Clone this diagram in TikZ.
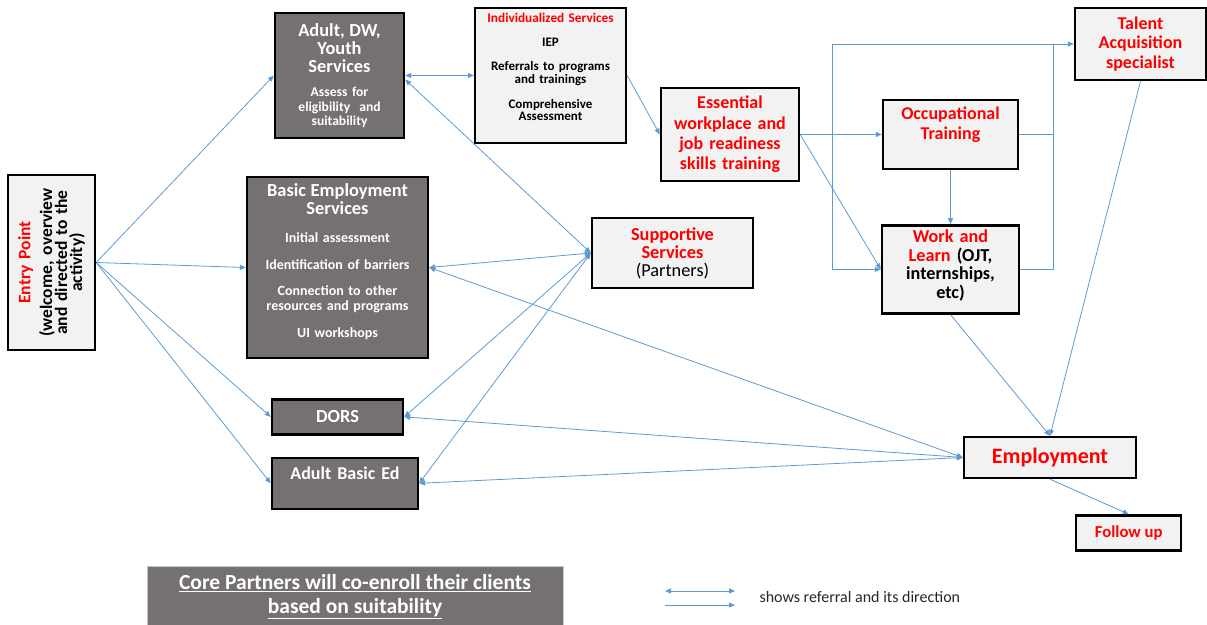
\documentclass[tikz,border=0pt]{standalone}
\usepackage{fontspec}
\setmainfont{Carlito}
\usepackage[dvipsnames]{xcolor}
\usepackage{tikz}
\usetikzlibrary{positioning}
\usetikzlibrary{calc}
\usetikzlibrary{arrows.meta}

\definecolor{BoxLight}{HTML}{F2F2F2}
\definecolor{BoxDark}{HTML}{767171}
\definecolor{LinkBlue}{HTML}{5B9BD5}
\definecolor{TextRed}{HTML}{FF0000}

\begin{document}
\begin{tikzpicture}[
	x=1pt, y=-1pt,
	lightbox/.style={draw, line width=2.4pt, fill=BoxLight, align=center, inner sep=2pt},
	darkbox/.style={draw, line width=2.4pt, fill=BoxDark, text=white, align=center, inner sep=2pt},
	link/.style={draw=LinkBlue, line width=0.8pt},
	oneway/.style={-{Triangle[length=6pt,width=5pt]}},
	twoway/.style={{Triangle[length=6pt,width=5pt]}-{Triangle[length=6pt,width=5pt]}}
	]
	\useasboundingbox (0,0) rectangle (1207,624);
	
	\node[
	lightbox,
	rotate=90,
	minimum width=175pt,
	minimum height=87pt,
	text width=171pt,
	font=\bfseries\fontsize{17.5}{15}\selectfont
	] (EntryPoint) at (51.5,262.5) {\textcolor{TextRed}{Entry Point}\par
		\vspace{5pt}
		(welcome, overview\\and directed to the\\activity)\par};
	
	% ---
	
	\node[
	darkbox,
	minimum width=129pt,
	minimum height=125pt,
	text width=125pt,
	font=\bfseries\fontsize{13.6}{14.5}\selectfont
	] (AdultDW-Youth) at (339.5,75.5) {{\fontsize{18.4}{18}\selectfont Adult, DW,\\Youth\\Services\par}
		\vspace{10pt}
		Assess for\\eligibility\ \ and\\suitability\par};
	
	\node[
	darkbox,
	minimum width=181pt,
	minimum height=181pt,
	text width=177pt,
	font=\bfseries\fontsize{14}{15}\selectfont
	] (BasicEmp) at (337.5,267.5) {{\fontsize{18.4}{18}\selectfont Basic Employment\\Services\par}
		\vspace{13pt}
		Initial assessment\par
		\vspace{12pt}
		Identification of barriers\par
		\vspace{11pt}
		Connection to other\\resources and programs\par
		\vspace{12pt}
		UI workshops\par
		\vspace{12pt}};
	
	\node[
	darkbox,
	minimum width=131pt,
	minimum height=35pt,
	font=\bfseries\fontsize{18.4}{18}\selectfont,
	below=39pt of BasicEmp
	] (DORS) {DORS};
	
	\node[
	darkbox,
	minimum width=146pt,
	minimum height=51pt,
	text width=142pt,
	font=\bfseries\fontsize{18}{18}\selectfont,
	below right=21pt and 0pt of DORS.south west
	] (AdultBasicEd) {Adult Basic Ed\par\vspace{21pt}};
	
	% ---
	
	\node[
	lightbox,
	minimum width=151pt,
	minimum height=135pt,
	text width=147pt,
	font=\bfseries\fontsize{13}{12.5}\selectfont
	] (IndivServ) at (550.5,75.5) {{\fontsize{13.3}{12.5}\selectfont\textcolor{TextRed}{Individualized Services}\par}
		\vspace{11.5pt}
		IEP\par
		\vspace{11.5pt}
		Referrals to programs\\and trainings\par
		\vspace{12.5pt}
		Comprehensive\\Assessment\par
		\vspace{4pt}\mbox{}};
	
	\node[
	lightbox,
	minimum width=138pt,
	minimum height=93pt,
	text width=134pt,
	text=TextRed,
	font=\bfseries\fontsize{18}{20.3}\selectfont
	] (EssentialSkills) at (730,134.5) {Essential\\workplace and\\job readiness\\skills training};
	
	\node[
	lightbox,
	minimum width=161pt,
	minimum height=70pt,
	text width=157pt,
	font=\bfseries\fontsize{18.3}{18}\selectfont
	] (SupportServ) at (672.5,253) {\textcolor{TextRed}{Supportive\\Services}\\{\mdseries (Partners)}};
	
	% ---
	
	\node[
	lightbox,
	minimum width=135pt,
	minimum height=69pt,
	text width=131pt,
	text=TextRed,
	font=\bfseries\fontsize{18}{20}\selectfont
	] (OccupTraining) at (950.5,134.5) {Occupational\\Training\par\vspace{19pt}};
	
	\node[
	lightbox,
	minimum width=137pt,
	minimum height=88pt,
	text width=133pt,
	font=\bfseries\fontsize{18.2}{18.5}\selectfont,
	below=54pt of OccupTraining
	] (WorkLearn) {\textcolor{TextRed}{Work and\\Learn} (OJT,\\internships,\\etc)\par\vspace{-8pt}\mbox{}};
	
	\node[
	lightbox,
	minimum width=131pt,
	minimum height=72pt,
	text width=127pt,
	text=TextRed,
	font=\bfseries\fontsize{18}{19.5}\selectfont
	] (TalentAcq) at (1140.5,44) {Talent\\Acquisition\\specialist};
	
	% ---
	
	\node[
	lightbox,
	minimum width=172pt,
	minimum height=41pt,
	text=TextRed,
	font=\bfseries\fontsize{22}{24}\selectfont
	] (Employment) at (1050,457.5) {Employment};
	
	\node[
	lightbox,
	minimum width=105pt,
	minimum height=35pt,
	text=TextRed,
	font=\bfseries\fontsize{16.7}{18}\selectfont,
	below right=35pt and 25pt of Employment.south
	] (FollowUp) {Follow up};
	
	% ---
	
	\node[
	draw=gray!45,
	fill=BoxDark,
	text=white,
	align=center,
	minimum width=416pt,
	minimum height=62pt,
	font=\bfseries\fontsize{21.5}{24}\selectfont
	] (CorePartners) at (355,597) {\underline{Core Partners will co-enroll their clients}\\\underline{based on suitability}};
	
	\coordinate (LegendA-start) at (665,591);
	\coordinate (LegendA-end) at (735,591);
	\coordinate (LegendB-start) at (665,605);
	\coordinate (LegendB-end) at (735,605);
	
	\node[
	anchor=west,
	text=black!85,
	font=\fontsize{16}{18}\selectfont
	] (LegendText) at (756,597) {shows referral and its direction};
	
	\coordinate (SplitLeft) at (832,134.5);
	\coordinate (SplitRight) at (1053,44);
	
	% --- referrals
	
	\draw[link, oneway] (EntryPoint.south) -- (AdultDW-Youth.west);
	\draw[link, oneway] (EntryPoint.south) -- (BasicEmp.west);
	\draw[link, oneway] (EntryPoint.south) -- (DORS.west);
	\draw[link, oneway] (EntryPoint.south) -- (AdultBasicEd.west);
	
	\draw[link, twoway] (AdultDW-Youth.east) -- (IndivServ.west);
	\draw[link, twoway] ($(AdultDW-Youth.east)+(0,4)$) -- (SupportServ.west);
	\draw[link, twoway] (BasicEmp.east) -- (SupportServ.west);
	\draw[link, twoway] (DORS.east) -- (SupportServ.west);
	\draw[link, twoway] (AdultBasicEd.east) -- (SupportServ.west);
	
	\draw[link, twoway] (BasicEmp.east) -- (Employment.west);
	\draw[link, twoway] (DORS.east) -- (Employment.west);
	\draw[link, twoway] (AdultBasicEd.east) -- (Employment.west);
	
	\draw[link, oneway] (IndivServ.east) -- (EssentialSkills.west);
	\draw[link, oneway] (EssentialSkills.east) -- (OccupTraining.west);
	\draw[link, oneway] (EssentialSkills.east) -- (WorkLearn.west);
	\draw[link, oneway] (EssentialSkills.east) -- (SplitLeft) |- (TalentAcq.west);
	\draw[link, oneway] (SplitLeft) |- (WorkLearn.west);
	\draw[link] (OccupTraining.east) -| (SplitRight);
	\draw[link] (WorkLearn.east) -| (SplitRight);
	\draw[link, oneway] (OccupTraining.south) -- (WorkLearn.north);
	
	\draw[link, oneway] (WorkLearn.south) -- (Employment.north);
	\draw[link, oneway] (TalentAcq.south) -- (Employment.north);
	\draw[link, oneway] (Employment.south) -- (FollowUp.north);
	
	% --- legend
	
	\draw[link, twoway] (LegendA-start) -- (LegendA-end);
	\draw[link, oneway] (LegendB-start) -- (LegendB-end);
\end{tikzpicture}
\end{document}
